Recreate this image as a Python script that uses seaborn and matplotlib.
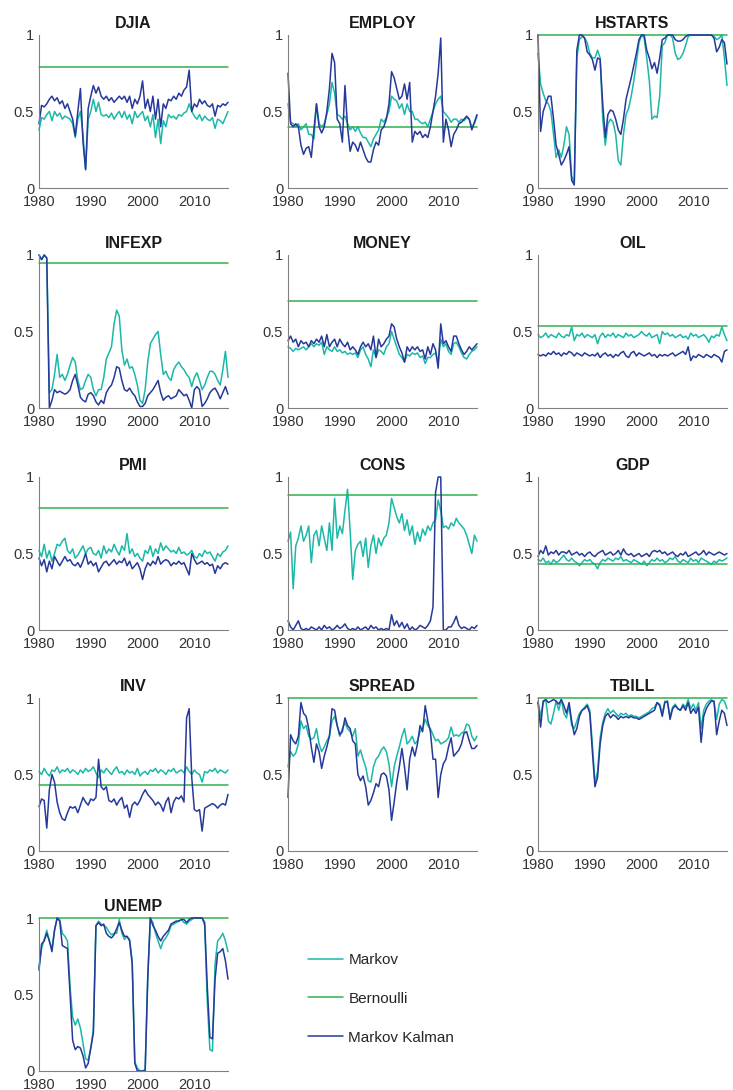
"""
Hit-rate probabilities per indicator: Markov vs Bernoulli vs Markov Kalman.
"""

import matplotlib
matplotlib.use("Agg")
import matplotlib.pyplot as plt
import numpy as np
import pandas as pd
import seaborn as sns

# half-year grid 1980.0 ... 2016.5
years = np.arange(1980, 2017, 0.5)

panels = ["DJIA", "EMPLOY", "HSTARTS", "INFEXP", "MONEY", "OIL", "PMI",
          "CONS", "GDP", "INV", "SPREAD", "TBILL", "UNEMP"]
bernoulli_level = [0.79, 0.40, 1.0, 0.95, 0.70, 0.535, 0.80,
                   0.885, 0.43, 0.43, 1.0, 1.0, 1.0]

djia_markov = [0.38, 0.46, 0.45, 0.48, 0.50, 0.44, 0.50, 0.47, 0.49, 0.45,
               0.47, 0.46, 0.45, 0.42, 0.33, 0.45, 0.50, 0.35, 0.12, 0.45,
               0.50, 0.58, 0.50, 0.56, 0.48, 0.47, 0.48, 0.46, 0.49, 0.45,
               0.48, 0.50, 0.46, 0.50, 0.45, 0.48, 0.42, 0.50, 0.46, 0.48,
               0.50, 0.44, 0.47, 0.40, 0.48, 0.33, 0.45, 0.29, 0.44, 0.40,
               0.48, 0.46, 0.47, 0.45, 0.48, 0.47, 0.49, 0.50, 0.55, 0.50,
               0.47, 0.45, 0.48, 0.44, 0.47, 0.45, 0.44, 0.46, 0.39, 0.45,
               0.44, 0.42, 0.46, 0.50]
djia_kalman = [0.42, 0.54, 0.53, 0.55, 0.58, 0.60, 0.57, 0.59, 0.55, 0.57,
               0.52, 0.55, 0.50, 0.45, 0.34, 0.50, 0.65, 0.30, 0.12, 0.52,
               0.60, 0.67, 0.62, 0.66, 0.60, 0.58, 0.60, 0.57, 0.59, 0.56,
               0.58, 0.60, 0.58, 0.60, 0.56, 0.60, 0.52, 0.58, 0.55, 0.60,
               0.70, 0.52, 0.58, 0.50, 0.60, 0.45, 0.58, 0.40, 0.55, 0.52,
               0.58, 0.57, 0.60, 0.58, 0.62, 0.60, 0.64, 0.66, 0.77, 0.50,
               0.55, 0.53, 0.58, 0.55, 0.57, 0.54, 0.53, 0.55, 0.47, 0.54,
               0.53, 0.55, 0.54, 0.56]

employ_markov = [0.55, 0.43, 0.42, 0.40, 0.42, 0.38, 0.40, 0.42, 0.35, 0.35,
                 0.32, 0.55, 0.42, 0.40, 0.42, 0.48, 0.55, 0.69, 0.62, 0.48,
                 0.47, 0.45, 0.47, 0.42, 0.38, 0.40, 0.37, 0.40, 0.36, 0.33,
                 0.33, 0.30, 0.27, 0.32, 0.35, 0.38, 0.45, 0.43, 0.46, 0.50,
                 0.60, 0.58, 0.57, 0.52, 0.55, 0.48, 0.55, 0.50, 0.50, 0.45,
                 0.45, 0.43, 0.42, 0.43, 0.40, 0.45, 0.50, 0.55, 0.58, 0.60,
                 0.50, 0.48, 0.46, 0.43, 0.45, 0.45, 0.43, 0.45, 0.44, 0.46,
                 0.45, 0.40, 0.42, 0.47]
employ_kalman = [0.75, 0.42, 0.40, 0.42, 0.40, 0.28, 0.22, 0.26, 0.27, 0.20,
                 0.38, 0.55, 0.40, 0.36, 0.40, 0.50, 0.65, 0.88, 0.82, 0.45,
                 0.42, 0.30, 0.67, 0.40, 0.24, 0.30, 0.28, 0.24, 0.30, 0.25,
                 0.20, 0.17, 0.17, 0.25, 0.30, 0.28, 0.38, 0.40, 0.45, 0.55,
                 0.76, 0.72, 0.65, 0.58, 0.60, 0.68, 0.58, 0.69, 0.30, 0.37,
                 0.35, 0.37, 0.33, 0.35, 0.33, 0.40, 0.50, 0.60, 0.75, 0.98,
                 0.30, 0.45, 0.38, 0.27, 0.35, 0.38, 0.42, 0.43, 0.45, 0.47,
                 0.45, 0.38, 0.43, 0.48]

hstarts_markov = [0.88, 0.68, 0.62, 0.57, 0.55, 0.50, 0.35, 0.20, 0.25, 0.20,
                  0.28, 0.40, 0.35, 0.08, 0.03, 0.85, 0.97, 0.99, 0.98, 0.95,
                  0.88, 0.85, 0.85, 0.90, 0.85, 0.45, 0.28, 0.42, 0.45, 0.43,
                  0.35, 0.18, 0.15, 0.35, 0.48, 0.52, 0.60, 0.70, 0.82, 0.95,
                  1.00, 0.98, 0.85, 0.70, 0.45, 0.47, 0.46, 0.60, 0.93, 0.95,
                  1.00, 1.00, 0.98, 0.88, 0.84, 0.85, 0.88, 0.93, 0.99, 1.00,
                  1.00, 1.00, 1.00, 1.00, 1.00, 1.00, 1.00, 1.00, 0.99, 0.97,
                  0.98, 1.00, 0.85, 0.67]
hstarts_kalman = [1.00, 0.37, 0.50, 0.55, 0.60, 0.60, 0.45, 0.28, 0.22, 0.15,
                  0.18, 0.22, 0.27, 0.05, 0.02, 0.90, 1.00, 1.00, 0.98, 0.89,
                  0.87, 0.84, 0.77, 0.85, 0.84, 0.55, 0.33, 0.48, 0.51, 0.50,
                  0.45, 0.38, 0.35, 0.45, 0.58, 0.65, 0.72, 0.80, 0.88, 0.97,
                  1.00, 1.00, 0.90, 0.85, 0.78, 0.82, 0.75, 0.85, 0.97, 0.98,
                  1.00, 1.00, 1.00, 0.97, 0.96, 0.96, 0.97, 0.99, 1.00, 1.00,
                  1.00, 1.00, 1.00, 1.00, 1.00, 1.00, 1.00, 1.00, 0.98, 0.89,
                  0.92, 0.97, 0.95, 0.81]

infexp_markov = [1.00, 0.97, 1.00, 0.98, 0.10, 0.12, 0.22, 0.35, 0.20, 0.22,
                 0.18, 0.22, 0.28, 0.33, 0.30, 0.18, 0.12, 0.13, 0.18, 0.22,
                 0.20, 0.12, 0.08, 0.12, 0.12, 0.20, 0.32, 0.36, 0.40, 0.55,
                 0.64, 0.60, 0.38, 0.28, 0.32, 0.26, 0.27, 0.22, 0.15, 0.05,
                 0.03, 0.12, 0.30, 0.42, 0.45, 0.48, 0.50, 0.35, 0.22, 0.24,
                 0.20, 0.18, 0.25, 0.28, 0.30, 0.27, 0.25, 0.22, 0.20, 0.14,
                 0.20, 0.23, 0.18, 0.12, 0.15, 0.20, 0.24, 0.24, 0.22, 0.18,
                 0.15, 0.25, 0.37, 0.20]
infexp_kalman = [1.00, 0.97, 1.00, 0.98, 0.00, 0.05, 0.12, 0.10, 0.11, 0.10,
                 0.09, 0.10, 0.12, 0.18, 0.22, 0.15, 0.07, 0.05, 0.04, 0.09,
                 0.10, 0.08, 0.04, 0.02, 0.05, 0.03, 0.10, 0.13, 0.15, 0.20,
                 0.27, 0.26, 0.18, 0.12, 0.11, 0.13, 0.10, 0.08, 0.04, 0.01,
                 0.01, 0.03, 0.08, 0.10, 0.12, 0.15, 0.18, 0.10, 0.05, 0.07,
                 0.08, 0.06, 0.07, 0.08, 0.12, 0.10, 0.08, 0.09, 0.05, 0.00,
                 0.12, 0.14, 0.12, 0.01, 0.03, 0.06, 0.10, 0.12, 0.13, 0.10,
                 0.06, 0.10, 0.14, 0.09]

money_markov = [0.40, 0.39, 0.37, 0.39, 0.38, 0.39, 0.40, 0.38, 0.40, 0.42,
                0.40, 0.42, 0.41, 0.43, 0.35, 0.40, 0.38, 0.37, 0.40, 0.37,
                0.38, 0.36, 0.37, 0.35, 0.36, 0.35, 0.36, 0.33, 0.38, 0.40,
                0.35, 0.32, 0.27, 0.38, 0.33, 0.38, 0.37, 0.35, 0.40, 0.42,
                0.50, 0.45, 0.40, 0.35, 0.33, 0.30, 0.35, 0.34, 0.36, 0.35,
                0.36, 0.33, 0.34, 0.29, 0.33, 0.33, 0.35, 0.36, 0.30, 0.45,
                0.40, 0.42, 0.37, 0.35, 0.42, 0.43, 0.40, 0.36, 0.33, 0.32,
                0.35, 0.37, 0.38, 0.40]
money_kalman = [0.44, 0.47, 0.43, 0.45, 0.40, 0.44, 0.42, 0.43, 0.40, 0.44,
                0.42, 0.45, 0.43, 0.47, 0.40, 0.48, 0.40, 0.43, 0.45, 0.40,
                0.45, 0.42, 0.40, 0.43, 0.38, 0.40, 0.38, 0.35, 0.40, 0.43,
                0.40, 0.42, 0.38, 0.47, 0.33, 0.45, 0.40, 0.42, 0.45, 0.47,
                0.55, 0.53, 0.45, 0.40, 0.36, 0.30, 0.40, 0.37, 0.40, 0.38,
                0.40, 0.37, 0.38, 0.32, 0.40, 0.35, 0.42, 0.38, 0.26, 0.55,
                0.42, 0.44, 0.40, 0.37, 0.47, 0.47, 0.42, 0.38, 0.35, 0.37,
                0.40, 0.38, 0.40, 0.42]

oil_markov = [0.48, 0.46, 0.47, 0.49, 0.46, 0.48, 0.47, 0.46, 0.49, 0.47,
              0.46, 0.48, 0.47, 0.53, 0.44, 0.48, 0.47, 0.49, 0.46, 0.48,
              0.47, 0.46, 0.48, 0.42, 0.47, 0.49, 0.46, 0.48, 0.47, 0.49,
              0.46, 0.48, 0.47, 0.46, 0.49, 0.47, 0.48, 0.46, 0.47, 0.48,
              0.50, 0.48, 0.47, 0.49, 0.46, 0.47, 0.48, 0.42, 0.50, 0.48,
              0.49, 0.47, 0.48, 0.46, 0.47, 0.48, 0.46, 0.47, 0.45, 0.49,
              0.47, 0.48, 0.46, 0.47, 0.48, 0.46, 0.43, 0.47, 0.46, 0.48,
              0.47, 0.53, 0.48, 0.44]
oil_kalman = [0.35, 0.34, 0.35, 0.34, 0.36, 0.35, 0.37, 0.35, 0.36, 0.34,
              0.36, 0.35, 0.37, 0.36, 0.34, 0.36, 0.35, 0.34, 0.36, 0.35,
              0.34, 0.35, 0.34, 0.36, 0.33, 0.35, 0.36, 0.34, 0.35, 0.33,
              0.35, 0.34, 0.36, 0.37, 0.34, 0.33, 0.36, 0.37, 0.34, 0.36,
              0.35, 0.34, 0.35, 0.36, 0.34, 0.35, 0.33, 0.35, 0.34, 0.35,
              0.34, 0.35, 0.36, 0.34, 0.35, 0.36, 0.37, 0.35, 0.40, 0.31,
              0.34, 0.33, 0.35, 0.34, 0.33, 0.35, 0.34, 0.33, 0.35, 0.34,
              0.33, 0.30, 0.37, 0.38]

pmi_markov = [0.52, 0.48, 0.56, 0.47, 0.52, 0.45, 0.50, 0.56, 0.55, 0.58,
              0.60, 0.52, 0.50, 0.53, 0.47, 0.49, 0.52, 0.55, 0.50, 0.53,
              0.54, 0.50, 0.49, 0.52, 0.47, 0.55, 0.50, 0.53, 0.51, 0.56,
              0.52, 0.49, 0.55, 0.52, 0.63, 0.50, 0.53, 0.48, 0.50, 0.47,
              0.45, 0.52, 0.50, 0.55, 0.48, 0.53, 0.50, 0.57, 0.52, 0.55,
              0.53, 0.51, 0.52, 0.50, 0.54, 0.50, 0.51, 0.49, 0.50, 0.52,
              0.48, 0.47, 0.50, 0.48, 0.52, 0.50, 0.51, 0.48, 0.45, 0.50,
              0.48, 0.51, 0.52, 0.55]
pmi_kalman = [0.47, 0.42, 0.46, 0.38, 0.45, 0.40, 0.48, 0.45, 0.42, 0.45,
              0.48, 0.45, 0.46, 0.43, 0.42, 0.44, 0.41, 0.45, 0.50, 0.43,
              0.45, 0.42, 0.44, 0.38, 0.41, 0.44, 0.45, 0.42, 0.44, 0.46,
              0.43, 0.45, 0.44, 0.47, 0.42, 0.45, 0.40, 0.42, 0.44, 0.40,
              0.33, 0.40, 0.44, 0.42, 0.45, 0.43, 0.48, 0.43, 0.45, 0.46,
              0.45, 0.42, 0.44, 0.43, 0.45, 0.43, 0.44, 0.40, 0.36, 0.50,
              0.46, 0.43, 0.44, 0.45, 0.43, 0.44, 0.42, 0.43, 0.37, 0.42,
              0.40, 0.43, 0.44, 0.43]

cons_markov = [0.58, 0.64, 0.27, 0.55, 0.60, 0.68, 0.58, 0.62, 0.68, 0.44,
               0.62, 0.65, 0.55, 0.68, 0.60, 0.52, 0.70, 0.52, 0.86, 0.60,
               0.68, 0.63, 0.78, 0.92, 0.65, 0.33, 0.52, 0.56, 0.58, 0.48,
               0.60, 0.41, 0.55, 0.62, 0.50, 0.60, 0.55, 0.60, 0.62, 0.70,
               0.86, 0.80, 0.74, 0.70, 0.76, 0.65, 0.72, 0.62, 0.68, 0.56,
               0.64, 0.58, 0.66, 0.62, 0.68, 0.65, 0.70, 0.72, 0.85, 0.78,
               0.67, 0.68, 0.66, 0.70, 0.68, 0.73, 0.70, 0.68, 0.66, 0.62,
               0.56, 0.50, 0.62, 0.58]
cons_kalman = [0.06, 0.02, 0.00, 0.03, 0.06, 0.01, 0.00, 0.01, 0.00, 0.02,
               0.01, 0.00, 0.02, 0.00, 0.03, 0.01, 0.02, 0.00, 0.01, 0.03,
               0.01, 0.02, 0.04, 0.01, 0.00, 0.01, 0.00, 0.02, 0.00, 0.01,
               0.02, 0.00, 0.03, 0.01, 0.02, 0.00, 0.01, 0.00, 0.01, 0.00,
               0.10, 0.03, 0.06, 0.02, 0.05, 0.01, 0.04, 0.00, 0.02, 0.00,
               0.01, 0.03, 0.02, 0.01, 0.03, 0.06, 0.15, 0.90, 1.00, 1.00,
               0.00, 0.00, 0.02, 0.02, 0.05, 0.09, 0.03, 0.01, 0.02, 0.01,
               0.00, 0.02, 0.01, 0.03]

gdp_markov = [0.46, 0.45, 0.47, 0.44, 0.45, 0.43, 0.46, 0.44, 0.45, 0.47,
              0.49, 0.46, 0.45, 0.47, 0.45, 0.44, 0.42, 0.44, 0.46, 0.45,
              0.46, 0.44, 0.43, 0.40, 0.44, 0.46, 0.45, 0.47, 0.46, 0.45,
              0.47, 0.46, 0.48, 0.45, 0.46, 0.45, 0.44, 0.46, 0.45, 0.44,
              0.43, 0.45, 0.42, 0.44, 0.46, 0.45, 0.47, 0.45, 0.46, 0.44,
              0.45, 0.47, 0.46, 0.48, 0.45, 0.44, 0.46, 0.45, 0.44, 0.47,
              0.45, 0.46, 0.44, 0.47, 0.46, 0.45, 0.44, 0.43, 0.45, 0.44,
              0.46, 0.45, 0.46, 0.47]
gdp_kalman = [0.48, 0.52, 0.50, 0.55, 0.49, 0.51, 0.50, 0.52, 0.49, 0.51,
              0.51, 0.50, 0.52, 0.49, 0.50, 0.51, 0.49, 0.50, 0.48, 0.50,
              0.51, 0.49, 0.48, 0.50, 0.51, 0.52, 0.49, 0.50, 0.51, 0.49,
              0.50, 0.52, 0.49, 0.53, 0.50, 0.49, 0.50, 0.48, 0.49, 0.50,
              0.48, 0.49, 0.50, 0.48, 0.51, 0.52, 0.51, 0.52, 0.50, 0.51,
              0.49, 0.50, 0.51, 0.49, 0.48, 0.50, 0.49, 0.51, 0.48, 0.49,
              0.50, 0.51, 0.49, 0.50, 0.52, 0.49, 0.51, 0.50, 0.49, 0.50,
              0.51, 0.50, 0.49, 0.50]

inv_markov = [0.52, 0.50, 0.54, 0.51, 0.49, 0.53, 0.52, 0.55, 0.51, 0.53,
              0.52, 0.54, 0.51, 0.53, 0.52, 0.50, 0.53, 0.51, 0.54, 0.52,
              0.53, 0.55, 0.51, 0.48, 0.53, 0.51, 0.54, 0.52, 0.50, 0.53,
              0.55, 0.51, 0.52, 0.50, 0.53, 0.51, 0.52, 0.50, 0.54, 0.49,
              0.51, 0.52, 0.50, 0.53, 0.52, 0.54, 0.51, 0.53, 0.52, 0.50,
              0.53, 0.52, 0.54, 0.51, 0.52, 0.53, 0.51, 0.55, 0.52, 0.50,
              0.53, 0.51, 0.50, 0.45, 0.52, 0.51, 0.53, 0.52, 0.54, 0.51,
              0.53, 0.52, 0.51, 0.53]
inv_kalman = [0.29, 0.34, 0.33, 0.15, 0.40, 0.50, 0.45, 0.32, 0.25, 0.21,
              0.20, 0.25, 0.29, 0.28, 0.29, 0.25, 0.30, 0.35, 0.32, 0.30,
              0.34, 0.33, 0.35, 0.60, 0.42, 0.40, 0.42, 0.33, 0.32, 0.34,
              0.30, 0.33, 0.35, 0.28, 0.30, 0.22, 0.30, 0.32, 0.30, 0.33,
              0.37, 0.40, 0.37, 0.35, 0.33, 0.30, 0.32, 0.30, 0.26, 0.32,
              0.35, 0.25, 0.32, 0.35, 0.34, 0.36, 0.32, 0.87, 0.93, 0.48,
              0.27, 0.26, 0.27, 0.13, 0.28, 0.29, 0.30, 0.31, 0.30, 0.28,
              0.30, 0.31, 0.30, 0.37]

spread_markov = [0.55, 0.65, 0.62, 0.64, 0.70, 0.85, 0.80, 0.82, 0.75, 0.73,
                 0.74, 0.80, 0.70, 0.65, 0.68, 0.72, 0.75, 0.85, 0.88, 0.82,
                 0.75, 0.80, 0.84, 0.80, 0.78, 0.75, 0.80, 0.62, 0.66, 0.60,
                 0.55, 0.46, 0.45, 0.55, 0.60, 0.62, 0.66, 0.68, 0.65, 0.57,
                 0.42, 0.55, 0.62, 0.68, 0.75, 0.80, 0.70, 0.72, 0.75, 0.70,
                 0.72, 0.78, 0.80, 0.86, 0.82, 0.80, 0.76, 0.72, 0.73, 0.70,
                 0.71, 0.72, 0.74, 0.81, 0.75, 0.76, 0.75, 0.77, 0.78, 0.83,
                 0.82, 0.75, 0.72, 0.75]
spread_kalman = [0.35, 0.76, 0.72, 0.70, 0.75, 0.97, 0.90, 0.88, 0.80, 0.68,
                 0.58, 0.70, 0.65, 0.54, 0.62, 0.68, 0.75, 0.93, 0.92, 0.82,
                 0.76, 0.78, 0.87, 0.82, 0.80, 0.72, 0.70, 0.50, 0.46, 0.49,
                 0.42, 0.30, 0.33, 0.38, 0.44, 0.42, 0.50, 0.51, 0.49, 0.40,
                 0.20, 0.32, 0.45, 0.55, 0.67, 0.55, 0.40, 0.60, 0.68, 0.62,
                 0.70, 0.82, 0.78, 0.95, 0.85, 0.78, 0.60, 0.60, 0.35, 0.50,
                 0.57, 0.60, 0.68, 0.74, 0.62, 0.64, 0.66, 0.70, 0.77, 0.78,
                 0.72, 0.67, 0.67, 0.69]

tbill_markov = [0.98, 0.88, 0.97, 0.99, 0.85, 0.83, 0.90, 0.98, 0.92, 0.99,
                0.90, 0.87, 0.95, 0.82, 0.80, 0.85, 0.90, 0.92, 0.94, 0.96,
                0.92, 0.70, 0.45, 0.52, 0.74, 0.84, 0.90, 0.93, 0.90, 0.92,
                0.90, 0.88, 0.90, 0.89, 0.90, 0.88, 0.89, 0.88, 0.88, 0.87,
                0.88, 0.89, 0.90, 0.91, 0.93, 0.94, 0.97, 0.96, 0.90, 0.98,
                0.97, 0.88, 0.94, 0.96, 0.93, 0.92, 0.96, 0.94, 0.99, 0.93,
                0.96, 0.92, 0.97, 0.80, 0.92, 0.96, 0.98, 0.99, 0.97, 0.86,
                0.96, 0.99, 0.98, 0.93]
tbill_kalman = [0.97, 0.81, 0.98, 0.99, 0.97, 0.98, 0.99, 0.98, 0.96, 0.99,
                0.95, 0.90, 0.97, 0.85, 0.76, 0.80, 0.88, 0.92, 0.93, 0.95,
                0.90, 0.65, 0.42, 0.48, 0.70, 0.82, 0.88, 0.90, 0.87, 0.89,
                0.88, 0.86, 0.88, 0.87, 0.88, 0.87, 0.88, 0.87, 0.87, 0.86,
                0.87, 0.88, 0.89, 0.90, 0.91, 0.92, 0.97, 0.95, 0.88, 0.97,
                0.98, 0.86, 0.93, 0.95, 0.93, 0.92, 0.95, 0.92, 0.97, 0.90,
                0.93, 0.90, 0.94, 0.71, 0.88, 0.93, 0.96, 0.98, 0.98, 0.76,
                0.85, 0.92, 0.90, 0.82]

unemp_markov = [0.68, 0.80, 0.86, 0.92, 0.85, 0.80, 0.92, 1.00, 0.99, 0.90,
                0.88, 0.85, 0.55, 0.35, 0.30, 0.34, 0.28, 0.18, 0.08, 0.07,
                0.15, 0.27, 0.95, 0.98, 0.96, 0.95, 0.94, 0.91, 0.89, 0.90,
                0.90, 0.99, 0.90, 0.86, 0.88, 0.86, 0.72, 0.06, 0.02, 0.00,
                0.00, 0.01, 0.62, 1.00, 0.97, 0.90, 0.85, 0.80, 0.85, 0.87,
                0.90, 0.95, 0.96, 0.97, 0.98, 0.99, 0.97, 0.96, 0.98, 0.99,
                1.00, 1.00, 1.00, 1.00, 0.95, 0.45, 0.14, 0.13, 0.70, 0.85,
                0.87, 0.90, 0.85, 0.78]
unemp_kalman = [0.66, 0.83, 0.85, 0.90, 0.85, 0.78, 0.92, 1.00, 0.98, 0.82,
                0.81, 0.80, 0.50, 0.20, 0.14, 0.16, 0.15, 0.10, 0.02, 0.05,
                0.15, 0.25, 0.95, 0.97, 0.95, 0.96, 0.90, 0.88, 0.87, 0.89,
                0.93, 0.97, 0.92, 0.88, 0.88, 0.85, 0.70, 0.05, 0.00, 0.00,
                0.00, 0.00, 0.60, 1.00, 0.95, 0.92, 0.88, 0.85, 0.88, 0.90,
                0.92, 0.96, 0.97, 0.98, 0.98, 0.99, 0.99, 0.97, 0.99, 1.00,
                1.00, 1.00, 1.00, 1.00, 0.97, 0.55, 0.22, 0.21, 0.60, 0.77,
                0.78, 0.80, 0.72, 0.60]

markov = [djia_markov, employ_markov, hstarts_markov, infexp_markov,
          money_markov, oil_markov, pmi_markov, cons_markov, gdp_markov,
          inv_markov, spread_markov, tbill_markov, unemp_markov]
kalman = [djia_kalman, employ_kalman, hstarts_kalman, infexp_kalman,
          money_kalman, oil_kalman, pmi_kalman, cons_kalman, gdp_kalman,
          inv_kalman, spread_kalman, tbill_kalman, unemp_kalman]

MODELS = ["Markov", "Bernoulli", "Markov Kalman"]
COLORS = {"Markov": "#1bb8a8", "Bernoulli": "#2fb04f", "Markov Kalman": "#26399a"}


def main():
    sns.set_style("white")
    plt.rcParams["font.family"] = ["Liberation Sans", "DejaVu Sans"]

    W, H = 733, 1090
    fig = plt.figure(figsize=(W / 100, H / 100), dpi=100)

    col_left = [39, 288, 538]
    row_top = [35, 255, 477, 698, 918]
    ax_w, ax_h = 189, 153

    axes = []
    for i, name in enumerate(panels):
        r, c = divmod(i, 3)
        ax = fig.add_axes([col_left[c] / W, 1 - (row_top[r] + ax_h) / H,
                           ax_w / W, ax_h / H])
        df = pd.DataFrame({
            "year": np.concatenate([years] * 3),
            "p": np.concatenate([markov[i],
                                 [bernoulli_level[i]] * len(years),
                                 kalman[i]]),
            "model": np.repeat(MODELS, len(years)),
        })
        for m in MODELS:
            sns.lineplot(data=df[df["model"] == m], x="year", y="p",
                         color=COLORS[m], linewidth=1.1, ax=ax,
                         legend=False, clip_on=False)

        ax.set_xlim(1980, 2016.5)
        ax.set_ylim(0, 1)
        ax.set_xticks([1980, 1990, 2000, 2010])
        ax.set_yticks([0, 0.5, 1])
        ax.set_yticklabels(["0", "0.5", "1"])
        ax.set_xlabel("")
        ax.set_ylabel("")
        ax.set_title(name, fontsize=11.5, fontweight="bold", pad=5,
                     color="#1a1a1a")
        for s in ["top", "right"]:
            ax.spines[s].set_visible(False)
        for s in ["left", "bottom"]:
            ax.spines[s].set_color("#808080")
            ax.spines[s].set_linewidth(0.8)
        ax.tick_params(direction="in", length=2.5, width=0.8, colors="#808080",
                       labelcolor="#333333", labelsize=10.5)
        ax.tick_params(axis="x", pad=5)
        ax.tick_params(axis="y", pad=3.5)
        axes.append(ax)

    handles = axes[0].lines[:3]
    fig.legend(handles, MODELS, loc="upper left",
               bbox_to_anchor=(308 / W, 1 - 953 / H), frameon=False,
               fontsize=11, handlelength=2.3, handletextpad=0.35,
               labelspacing=1.62, borderpad=0, borderaxespad=0)

    fig.savefig("out.png", dpi=100)
    plt.close(fig)


if __name__ == "__main__":
    main()
